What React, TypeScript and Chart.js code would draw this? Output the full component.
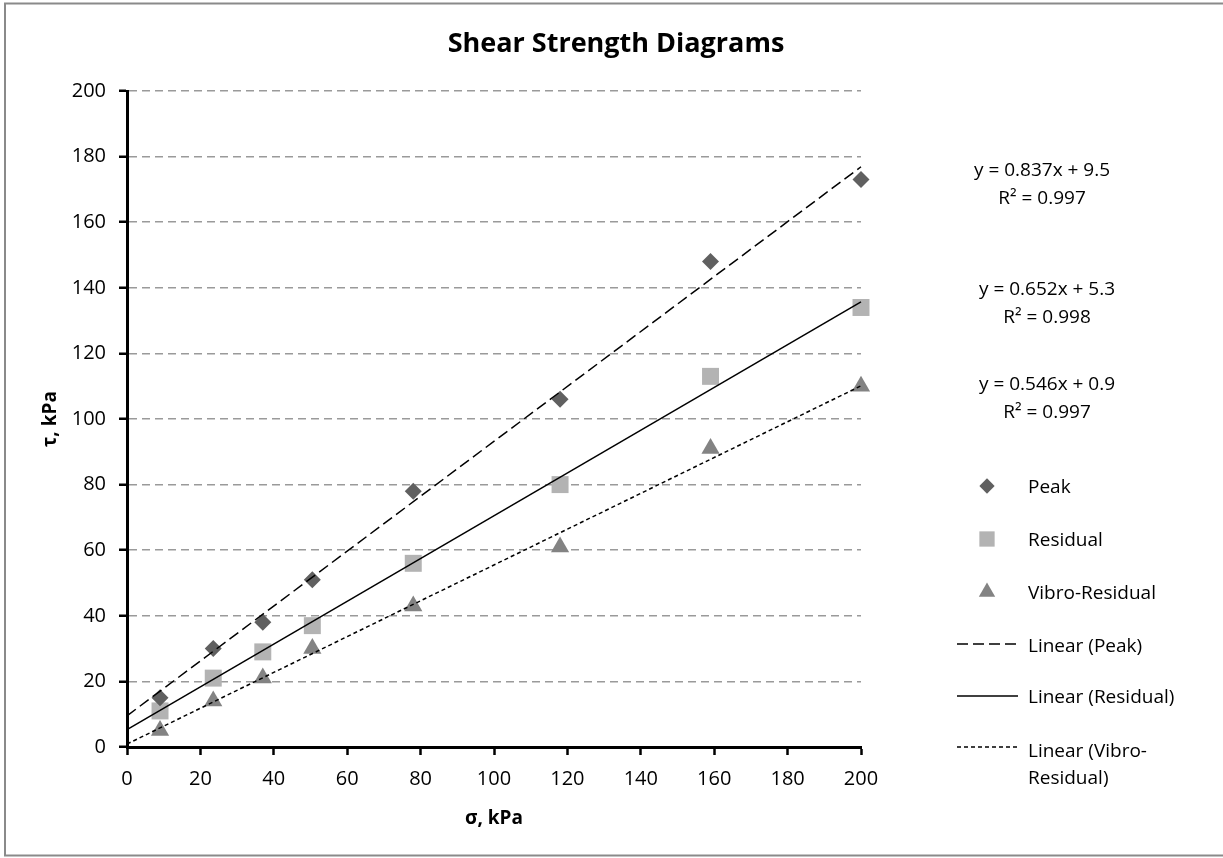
import React, { useEffect, useRef } from 'react';
import { Chart, registerables } from 'chart.js';

Chart.register(...registerables);

const FONT = '"Open Sans", Lato, sans-serif';

// ---- data ----
const seriesNames = ['Peak', 'Residual', 'Vibro-Residual'];
const sigmaValues = [9, 23.5, 37, 50.5, 78, 118, 159, 200];
const peakTau = [15, 30, 38, 51, 78, 106, 148, 173];
const residualTau = [11, 21, 29, 37, 56, 80, 113, 134];
const vibroTau = [5, 14, 21, 30, 43, 61, 91, 110];
const trendSlopes = [0.837, 0.652, 0.546];
const trendIntercepts = [9.5, 5.3, 0.9];
const trendR2 = [0.997, 0.998, 0.997];
const trendRange = [0, 200];
const axisMin = 0;
const axisMax = 200;
const axisStep = 20;
const xTitle = 'σ, kPa';
const yTitle = 'τ, kPa';
const chartTitle = 'Shear Strength Diagrams';

// ---- styles ----
const markerColors = ['#606060', '#b3b3b3', '#838383'];
const markerStyles = ['rectRot', 'rect', 'triangle'];
const markerRadii = [8.5, 12, 10.5];
const trendDashes = [[11, 5], [], [4, 3]];

const seriesTau = [peakTau, residualTau, vibroTau];

function drawMarker(ctx: CanvasRenderingContext2D, style: string, x: number, y: number, r: number, color: string) {
  ctx.save();
  ctx.fillStyle = color;
  ctx.beginPath();
  if (style === 'rectRot') {
    ctx.moveTo(x, y - r);
    ctx.lineTo(x + r, y);
    ctx.lineTo(x, y + r);
    ctx.lineTo(x - r, y);
  } else if (style === 'rect') {
    const s = Math.SQRT1_2 * r;
    ctx.rect(x - s, y - s, 2 * s, 2 * s);
  } else {
    ctx.moveTo(x, y - r);
    ctx.lineTo(x + 0.866 * r, y + 0.5 * r);
    ctx.lineTo(x - 0.866 * r, y + 0.5 * r);
  }
  ctx.closePath();
  ctx.fill();
  ctx.restore();
}

const backgroundPlugin = {
  id: 'bgFrame',
  beforeDraw(chart: any) {
    const ctx = chart.ctx as CanvasRenderingContext2D;
    ctx.save();
    ctx.fillStyle = '#ffffff';
    ctx.fillRect(0, 0, chart.width, chart.height);
    ctx.strokeStyle = '#8a8a8a';
    ctx.lineWidth = 2;
    ctx.strokeRect(5, 3.5, 1240, 852);
    ctx.restore();
  },
};

const overlayPlugin = {
  id: 'overlay',
  afterDraw(chart: any) {
    const ctx = chart.ctx as CanvasRenderingContext2D;
    ctx.save();
    // title
    ctx.fillStyle = '#000';
    ctx.font = `bold 27px ${FONT}`;
    ctx.textAlign = 'center';
    ctx.textBaseline = 'alphabetic';
    ctx.fillText(chartTitle, 616, 52);

    // trendline equations
    ctx.font = `19px ${FONT}`;
    ctx.textBaseline = 'middle';
    const eqY = [171, 290, 385];
    const eqX = [1042, 1047, 1047];
    for (let i = 0; i < 3; i++) {
      const eq = `y = ${trendSlopes[i].toFixed(3)}x + ${trendIntercepts[i].toFixed(1)}`;
      const r2 = `R² = ${trendR2[i].toFixed(3)}`;
      ctx.fillText(eq, eqX[i], eqY[i]);
      ctx.fillText(r2, eqX[i], eqY[i] + 28);
    }

    // legend
    ctx.textAlign = 'left';
    const textX = 1028;
    const markerRows = [486, 539, 592];
    for (let i = 0; i < 3; i++) {
      drawMarker(ctx, markerStyles[i], 987, markerRows[i], markerRadii[i] * 0.9, markerColors[i]);
      ctx.fillStyle = '#000';
      ctx.fillText(seriesNames[i], textX, markerRows[i] + 2);
    }
    const lineRows = [644, 696, 747];
    for (let i = 0; i < 3; i++) {
      ctx.save();
      ctx.strokeStyle = '#000';
      ctx.lineWidth = 1.5;
      ctx.setLineDash(trendDashes[i]);
      ctx.beginPath();
      ctx.moveTo(957, lineRows[i]);
      ctx.lineTo(1018, lineRows[i]);
      ctx.stroke();
      ctx.restore();
    }
    ctx.fillStyle = '#000';
    ctx.fillText(`Linear (${seriesNames[0]})`, textX, 647);
    ctx.fillText(`Linear (${seriesNames[1]})`, textX, 698);
    ctx.fillText('Linear (Vibro-', textX, 752);
    ctx.fillText('Residual)', textX, 779);
    ctx.restore();
  },
};

export default function App() {
  const ref = useRef<HTMLCanvasElement>(null);

  useEffect(() => {
    const canvas = ref.current;
    if (!canvas) return;

    const trendDatasets = trendSlopes.map((m, i) => ({
      label: `Linear (${seriesNames[i]})`,
      data: trendRange.map((x) => ({ x, y: m * x + trendIntercepts[i] })),
      showLine: true,
      borderColor: '#000',
      borderWidth: 1.5,
      borderDash: trendDashes[i],
      pointRadius: 0,
      pointHoverRadius: 0,
      fill: false,
      clip: false,
      order: 0,
    }));

    const pointDatasets = seriesTau.map((tau, i) => ({
      label: seriesNames[i],
      data: sigmaValues.map((x, j) => ({ x, y: tau[j] })),
      showLine: false,
      pointStyle: markerStyles[i],
      pointRadius: markerRadii[i],
      pointHoverRadius: markerRadii[i],
      pointBackgroundColor: markerColors[i],
      pointBorderColor: markerColors[i],
      pointBorderWidth: 0,
      backgroundColor: markerColors[i],
      borderColor: markerColors[i],
      clip: false,
      order: 1,
    }));

    const chart = new Chart(canvas, {
      type: 'scatter',
      data: { datasets: [...trendDatasets, ...pointDatasets] as any },
      plugins: [backgroundPlugin, overlayPlugin],
      options: {
        responsive: false,
        animation: false,
        devicePixelRatio: 1,
        layout: { padding: { left: 0, top: 91, right: 362, bottom: 0 } },
        plugins: {
          legend: { display: false },
          title: { display: false },
          tooltip: { enabled: false },
        },
        scales: {
          x: {
            type: 'linear',
            position: 'bottom',
            min: axisMin,
            max: axisMax,
            ticks: {
              stepSize: axisStep,
              color: '#000',
              font: { family: FONT, size: 20 },
              padding: 12,
              maxRotation: 0,
              autoSkip: false,
            },
            grid: {
              drawOnChartArea: false,
              drawTicks: true,
              tickLength: 8,
              tickColor: '#000',
              tickWidth: 2.5,
            },
            border: { display: true, color: '#000', width: 3 },
            title: {
              display: true,
              text: xTitle,
              color: '#000',
              font: { family: FONT, size: 19, weight: 'bold' },
              padding: { top: 0, bottom: 28 },
            },
            afterFit: (s: any) => {
              s.height = 111;
            },
          },
          y: {
            type: 'linear',
            position: 'left',
            min: axisMin,
            max: axisMax,
            ticks: {
              stepSize: axisStep,
              color: '#000',
              font: { family: FONT, size: 20 },
              padding: 13,
            },
            grid: {
              drawOnChartArea: true,
              drawTicks: true,
              tickLength: 8,
              tickColor: '#000',
              tickWidth: 2.5,
              tickBorderDash: [],
              lineWidth: 1.5,
              color: (c: any) => (c.tick && c.tick.value === 0 ? 'rgba(0,0,0,0)' : '#9a9a9a'),
            },
            border: { display: true, color: '#000', width: 3, dash: [8, 5] },
            title: {
              display: true,
              text: yTitle,
              color: '#000',
              font: { family: FONT, size: 19, weight: 'bold' },
              padding: { top: 39, bottom: 0 },
            },
            afterFit: (s: any) => {
              s.width = 127;
            },
          },
        },
      } as any,
    });

    return () => chart.destroy();
  }, []);

  return (
    <div style={{ position: 'fixed', left: 0, top: 0, width: 1223, height: 858, background: '#fff' }}>
      <canvas ref={ref} width={1223} height={858} style={{ display: 'block', width: 1223, height: 858 }} />
    </div>
  );
}
